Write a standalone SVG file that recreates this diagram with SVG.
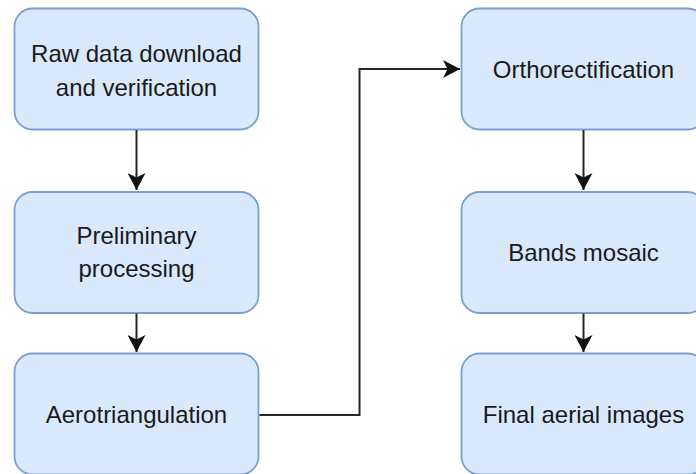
<svg xmlns="http://www.w3.org/2000/svg" width="696" height="474" viewBox="0 0 696 474">
  <style>
    .box { fill: #dae8fc; stroke: #7d9fd0; stroke-width: 1.8; }
    .label { font-family: "Liberation Sans", Arial, Helvetica, sans-serif; font-size: 24px; fill: #1a1a1a; text-anchor: middle; }
    .edge { fill: none; stroke: #262626; stroke-width: 2; }
  </style>
  <defs>
    <marker id="arrow" viewBox="0 0 18 18" markerWidth="18" markerHeight="18" refX="17" refY="9" orient="auto" markerUnits="userSpaceOnUse">
      <path d="M0,0 L17,9 L0,18 L4.5,9 Z" fill="#111"/>
    </marker>
  </defs>

  <rect width="696" height="474" fill="#ffffff"/>

  <!-- left column -->
  <g id="raw-data">
    <rect class="box" x="14.5" y="8.5" width="244" height="121" rx="18"/>
    <text class="label" x="136.5" y="62">Raw data download</text>
    <text class="label" x="136.5" y="95.5">and verification</text>
  </g>
  <g id="preliminary">
    <rect class="box" x="14.5" y="192" width="244" height="121" rx="18"/>
    <text class="label" x="136.5" y="244">Preliminary</text>
    <text class="label" x="136.5" y="277">processing</text>
  </g>
  <g id="aerotriangulation">
    <rect class="box" x="14.5" y="353.5" width="244" height="121" rx="18"/>
    <text class="label" x="136.5" y="423">Aerotriangulation</text>
  </g>

  <!-- right column -->
  <g id="orthorectification">
    <rect class="box" x="461.5" y="8.5" width="244" height="121" rx="18"/>
    <text class="label" x="583.5" y="78">Orthorectification</text>
  </g>
  <g id="bands-mosaic">
    <rect class="box" x="461.5" y="192" width="244" height="121" rx="18"/>
    <text class="label" x="583.5" y="261">Bands mosaic</text>
  </g>
  <g id="final-images">
    <rect class="box" x="461.5" y="353.5" width="244" height="121" rx="18"/>
    <text class="label" x="583.5" y="423">Final aerial images</text>
  </g>

  <!-- connectors -->
  <g id="connectors">
    <path class="edge" d="M136.5,130 V190" marker-end="url(#arrow)"/>
    <path class="edge" d="M136.5,313.5 V352" marker-end="url(#arrow)"/>
    <path class="edge" d="M259.5,415 H359.5 V69 H460" marker-end="url(#arrow)"/>
    <path class="edge" d="M583.5,130 V190" marker-end="url(#arrow)"/>
    <path class="edge" d="M583.5,313.5 V352" marker-end="url(#arrow)"/>
  </g>
</svg>
